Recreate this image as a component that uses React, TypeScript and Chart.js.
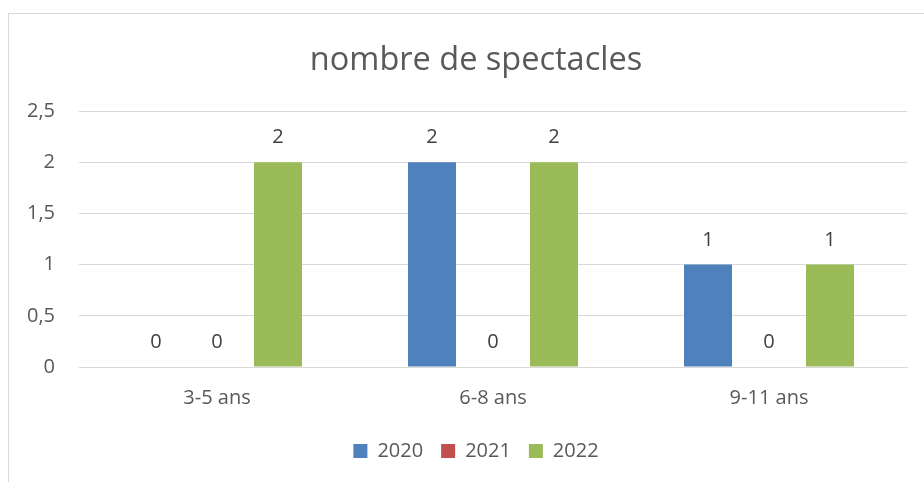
import React, { useEffect, useRef } from "react";
import { Chart, registerables } from "chart.js";

Chart.register(...registerables);

const chartTitle = "nombre de spectacles";
const categories = ["3-5 ans", "6-8 ans", "9-11 ans"];
const seriesNames = ["2020", "2021", "2022"];
const values2020 = [0, 2, 1];
const values2021 = [0, 0, 0];
const values2022 = [2, 2, 1];
const seriesColors = ["#4F81BD", "#C0504D", "#9BBB59"];
const yTickValues = [0, 0.5, 1, 1.5, 2, 2.5];

const FONT = "'Open Sans', 'Liberation Sans', sans-serif";
const fmt = (v: number) => String(v).replace(".", ",");

const dataLabels = {
  id: "dataLabels",
  afterDatasetsDraw(chart: any) {
    const ctx = chart.ctx;
    ctx.save();
    ctx.font = `20px ${FONT}`;
    ctx.fillStyle = "#404040";
    ctx.textAlign = "center";
    ctx.textBaseline = "alphabetic";
    chart.data.datasets.forEach((ds: any, i: number) => {
      const meta = chart.getDatasetMeta(i);
      meta.data.forEach((el: any, j: number) => {
        ctx.fillText(fmt(ds.data[j]), el.x, el.y - 19);
      });
    });
    ctx.restore();
  },
};

export default function App() {
  const ref = useRef<HTMLCanvasElement | null>(null);

  useEffect(() => {
    if (!ref.current) return;
    const allValues = [values2020, values2021, values2022];
    const chart = new Chart(ref.current, {
      type: "bar",
      data: {
        labels: categories,
        datasets: seriesNames.map((name, i) => ({
          label: name,
          data: allValues[i],
          backgroundColor: seriesColors[i],
          borderWidth: 0,
          categoryPercentage: 0.663,
          barPercentage: 0.787,
        })),
      },
      options: {
        animation: false,
        responsive: false,
        maintainAspectRatio: false,
        layout: { padding: { left: 45, right: 17, top: 41, bottom: 11 } },
        plugins: {
          title: {
            display: true,
            text: chartTitle,
            color: "#595959",
            font: { family: FONT, size: 32.5, weight: "normal" },
            padding: { top: 0, bottom: 31 },
          },
          legend: {
            position: "bottom",
            labels: {
              color: "#595959",
              font: { family: FONT, size: 20 },
              boxWidth: 14,
              boxHeight: 14,
              padding: 18,
            },
          },
          tooltip: { enabled: false },
        },
        scales: {
          x: {
            grid: { display: false, drawTicks: false },
            border: { display: true, color: "#d9d9d9", width: 1 },
            ticks: {
              color: "#595959",
              font: { family: FONT, size: 20 },
              padding: 19,
            },
            afterFit: (scale: any) => {
              scale.height = 56;
            },
          },
          y: {
            min: 0,
            max: 2.5,
            grid: { color: "#d9d9d9", lineWidth: 1, drawTicks: false },
            border: { display: false },
            ticks: {
              color: "#595959",
              font: { family: FONT, size: 20 },
              padding: 24,
              callback: (v: any) => fmt(Number(v)),
            },
            afterBuildTicks: (scale: any) => {
              scale.ticks = yTickValues.map((v) => ({ value: v }));
            },
            afterFit: (scale: any) => {
              scale.width = 34;
              // let the tick labels extend left of the scale box without being clipped
              scale._computeLabelArea = () => undefined;
            },
          },
        },
      },
      plugins: [dataLabels],
    });
    return () => chart.destroy();
  }, []);

  return (
    <div>
      <div
        style={{
          position: "fixed",
          left: 8,
          top: 13,
          width: 2000,
          height: 2000,
          borderLeft: "1px solid #d9d9d9",
          borderTop: "1px solid #d9d9d9",
        }}
      />
      <canvas
        ref={ref}
        width={924}
        height={482}
        style={{ position: "fixed", left: 0, top: 0, width: 924, height: 482 }}
      />
    </div>
  );
}
